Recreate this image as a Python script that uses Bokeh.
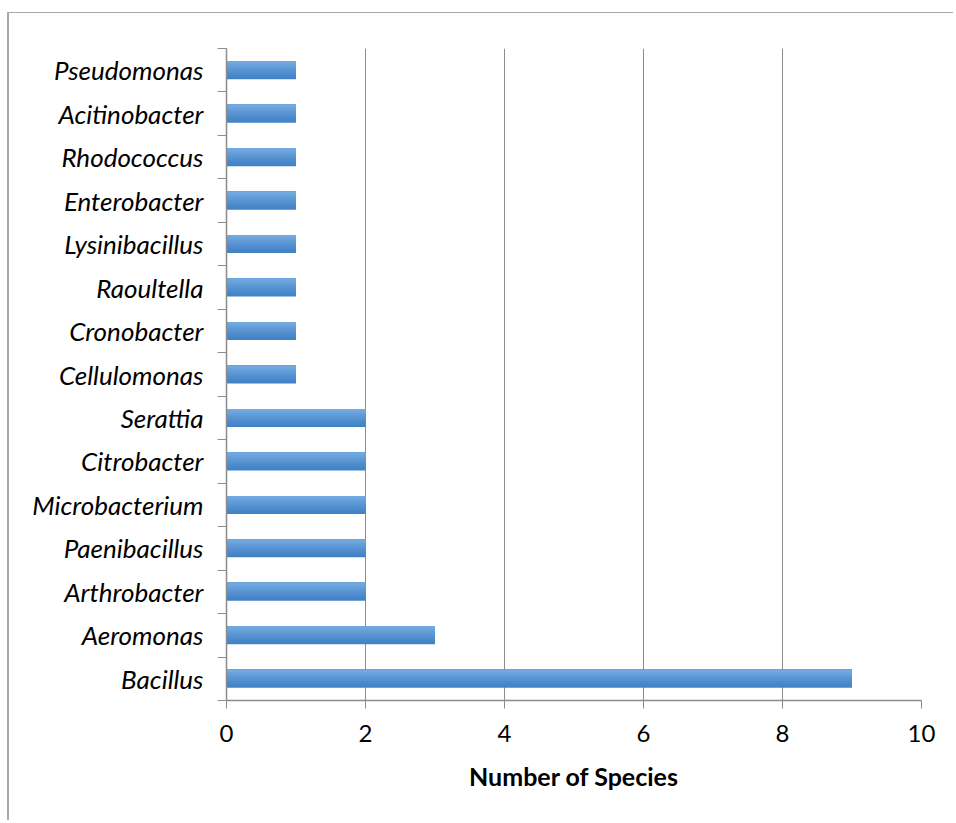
import numpy as np
from bokeh.plotting import figure
from bokeh.models import ColumnDataSource, FixedTicker, Range1d
from bokeh.transform import dodge
from bokeh.embed import file_html
from bokeh.resources import INLINE

# categories listed bottom to top
genera = ["Bacillus", "Aeromonas", "Arthrobacter", "Paenibacillus", "Microbacterium",
          "Citrobacter", "Serattia", "Cellulomonas", "Cronobacter", "Raoultella",
          "Lysinibacillus", "Enterobacter", "Rhodococcus", "Acitinobacter", "Pseudomonas"]
species_counts = [9, 3, 2, 2, 2, 2, 2, 1, 1, 1, 1, 1, 1, 1, 1]
x_ticks = [0, 2, 4, 6, 8, 10]

n = len(genera)
centers = [i + 0.5 for i in range(n)]
source = ColumnDataSource(dict(y=centers, count=species_counts, name=genera))

p = figure(width=946, height=808, output_backend="svg", toolbar_location=None,
           x_range=Range1d(0, 10), y_range=Range1d(0, n),
           min_border_left=217, min_border_right=34, min_border_top=35,
           min_border_bottom=121)
p.margin = (12, 0, 0, 7)
p.styles = {"border-left": "2px solid #a8a8a8", "border-top": "1px solid #a8a8a8"}
p.outline_line_color = None
p.background_fill_color = "white"

# gradient bars: layered overlays, darkest full bar first, lighter top parts above
bar_h = 0.414
strips = 8
cols = ["#4282c7", "#4886ca", "#4e8bcd", "#5591d0", "#5c97d4", "#639dd8", "#6ba3dc", "#72a9e0"]
for k in range(strips):
    h = bar_h * (strips - k) / strips
    off = bar_h / 2 - h / 2
    p.hbar(y=dodge("y", off), right="count", left=0, height=h, source=source,
           fill_color=cols[k], line_color=None)

# x axis
p.xaxis.ticker = FixedTicker(ticks=x_ticks)
p.xaxis.axis_line_color = "#8c8c8c"
p.xaxis.axis_line_width = 1.5
p.xaxis.major_tick_line_color = "#8c8c8c"
p.xaxis.major_tick_out = 8
p.xaxis.major_tick_in = 0
p.xaxis.minor_tick_line_color = None
p.xaxis.major_label_text_font = "Lato"
p.xaxis.major_label_text_font_size = "24px"
p.xaxis.major_label_text_color = "black"
p.xaxis.major_label_standoff = 16
p.xaxis.axis_label = "Number of Species"
p.xaxis.axis_label_text_font = "Lato"
p.xaxis.axis_label_text_font_style = "bold"
p.xaxis.axis_label_text_font_size = "25px"
p.xaxis.axis_label_text_color = "black"
p.xaxis.axis_label_standoff = 16

# y axis: labels at centres, ticks at boundaries
p.yaxis.ticker = FixedTicker(ticks=centers, minor_ticks=list(range(n + 1)))
p.yaxis.major_label_overrides = {c: g for c, g in zip(centers, genera)}
p.yaxis.major_tick_line_color = None
p.yaxis.minor_tick_line_color = "#8c8c8c"
p.yaxis.minor_tick_out = 9
p.yaxis.minor_tick_in = 0
p.yaxis.axis_line_color = "#8c8c8c"
p.yaxis.axis_line_width = 1.5
p.yaxis.major_label_text_font = "Lato"
p.yaxis.major_label_text_font_style = "italic"
p.yaxis.major_label_text_font_size = "26px"
p.yaxis.major_label_text_color = "black"
p.yaxis.major_label_standoff = 14

p.xgrid.ticker = FixedTicker(ticks=x_ticks)
p.xgrid.grid_line_color = "#8c8c8c"
p.xgrid.grid_line_width = 1
p.ygrid.grid_line_color = None

open("out.html", "w").write(file_html(p, INLINE))
